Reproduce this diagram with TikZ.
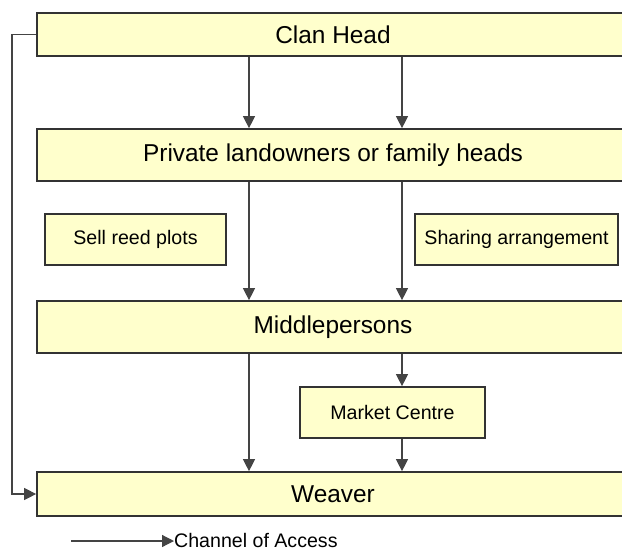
\documentclass[tikz,border=0pt]{standalone}
\usepackage{fontspec}
\setmainfont{Liberation Sans}
\usetikzlibrary{arrows.meta}
\usetikzlibrary{calc}
\definecolor{boxfill}{RGB}{255,255,204}
\definecolor{boxline}{RGB}{51,51,51}
\definecolor{arrline}{RGB}{68,68,68}
\tikzset{bx/.style={draw=boxline,fill=boxfill,line width=1.7pt,inner sep=0pt}}
\tikzset{big/.style={bx,minimum width=592pt,font=\fontsize{24.4}{27}\selectfont}}
\tikzset{sm/.style={bx,minimum height=51pt,font=\fontsize{19.6}{22}\selectfont}}
\tikzset{arr/.style={draw=arrline,line width=1.2pt,-{Triangle[length=12pt,width=12pt]}}}

\begin{document}
\begin{tikzpicture}[x=1pt,y=-1pt]
            \useasboundingbox (0,0) rectangle (622,547);
            \node[big,minimum height=43pt] (ch) at (333,34.5) {Clan Head};
            \node[big,minimum height=52pt] (pl) at (333,155) {Private landowners or family heads};
            \node[sm,minimum width=181pt] (srp) at (135.5,239.5) {Sell reed plots};
            \node[sm,minimum width=203pt] (sa) at (516.5,239.5) {Sharing arrangement};
            \node[big,minimum height=52pt] (mp) at (333,327) {Middlepersons};
            \node[sm,minimum width=185pt] (mc) at (392.5,412.5) {Market Centre};
            \node[big,minimum height=44pt] (wv) at (333,494) {Weaver};
            \coordinate (la) at (249,0);
            \coordinate (ra) at (402,0);
            \coordinate (fb) at (12,34.5);
            \draw[arr] (ch.south -| la)--(pl.north -| la);
            \draw[arr] (ch.south -| ra)--(pl.north -| ra);
            \draw[arr] (pl.south -| la)--(mp.north -| la);
            \draw[arr] (pl.south -| ra)--(mp.north -| ra);
            \draw[arr] (mp.south -| la)--(wv.north -| la);
            \draw[arr] (mp.south -| ra)--(mc.north -| ra);
            \draw[arr] (mc.south -| ra)--(wv.north -| ra);
            \draw[arr] (ch.west)--(fb)|-(wv.west);
            % legend
            \coordinate (lg) at (71,541);
            \node[anchor=base west,inner sep=0pt,font=\fontsize{19.6}{22}\selectfont] (lgt) at (174,547) {Channel of Access};
            \draw[arr] (lg)--(lg -| lgt.west);
          \end{tikzpicture}
\end{document}
